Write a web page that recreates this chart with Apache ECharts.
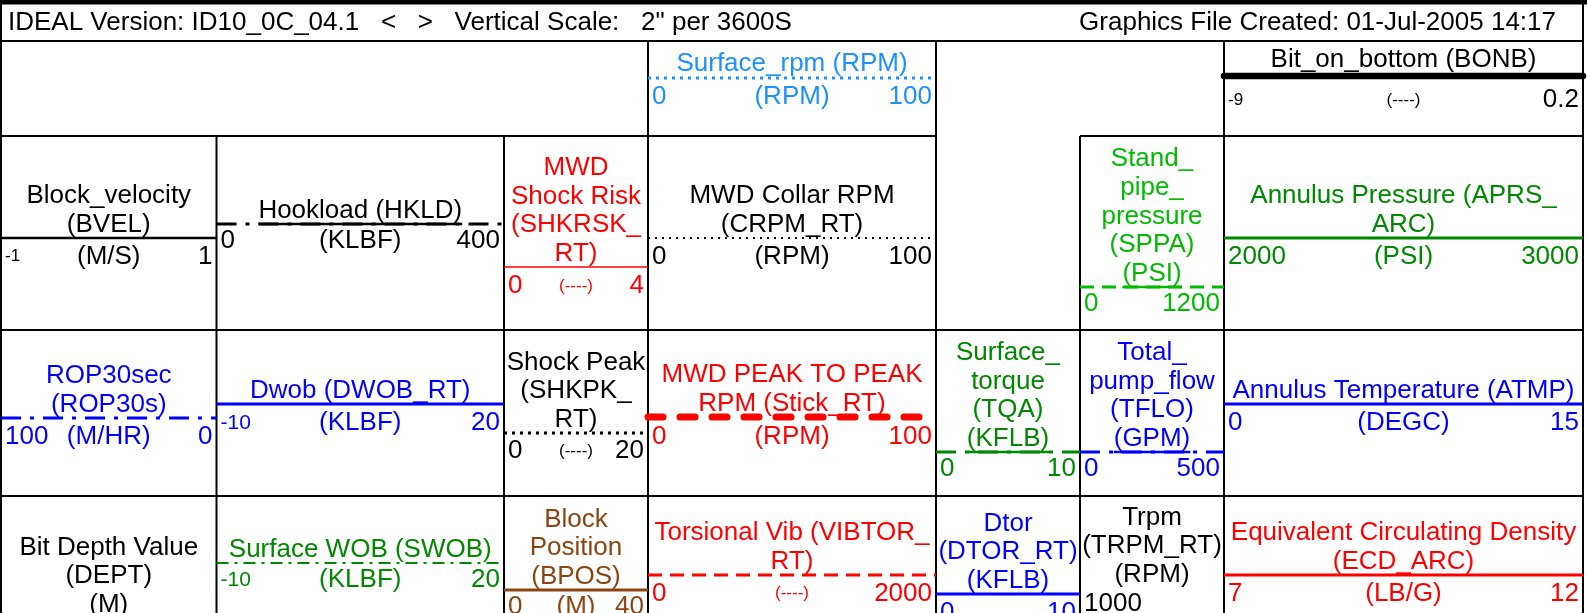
<!DOCTYPE html>
<html><head><meta charset="utf-8">
<script src="https://cdn.jsdelivr.net/npm/echarts/dist/echarts.min.js"></script>
<style>html,body{margin:0;padding:0;background:#fff;overflow:hidden}#chart{width:1587px;height:613px}</style>
</head><body><div id="chart"></div>
<script>
// ---------------- DATA (text content of the log header) ----------------
const headerLeft = 'IDEAL Version: ID10_0C_04.1   <   >   Vertical Scale:   2" per 3600S';
const headerRight = 'Graphics File Created: 01-Jul-2005 14:17';
const curveTitles = [
  ['Surface_rpm (RPM)'],
  ['Bit_on_bottom (BONB)'],
  ['Block_velocity', '(BVEL)'],
  ['Hookload (HKLD)'],
  ['MWD', 'Shock Risk', '(SHKRSK_', 'RT)'],
  ['MWD Collar RPM', '(CRPM_RT)'],
  ['Stand_', 'pipe_', 'pressure', '(SPPA)', '(PSI)'],
  ['Annulus Pressure (APRS_', 'ARC)'],
  ['ROP30sec', '(ROP30s)'],
  ['Dwob (DWOB_RT)'],
  ['Shock Peak', '(SHKPK_', 'RT)'],
  ['MWD PEAK TO PEAK', 'RPM (Stick_RT)'],
  ['Surface_', 'torque', '(TQA)', '(KFLB)'],
  ['Total_', 'pump_flow', '(TFLO)', '(GPM)'],
  ['Annulus Temperature (ATMP)'],
  ['Bit Depth Value', '(DEPT)', '(M)'],
  ['Surface WOB (SWOB)'],
  ['Block', 'Position', '(BPOS)'],
  ['Torsional Vib (VIBTOR_', 'RT)'],
  ['Dtor', '(DTOR_RT)', '(KFLB)'],
  ['Trpm', '(TRPM_RT)', '(RPM)'],
  ['Equivalent Circulating Density', '(ECD_ARC)']
];
const curveUnits = ['(RPM)', '(----)', '(M/S)', '(KLBF)', '(----)', '(RPM)', '', '(PSI)', '(M/HR)', '(KLBF)',
  '(----)', '(RPM)', '', '', '(DEGC)', '', '(KLBF)', '(M)', '(----)', '', '', '(LB/G)'];
const scaleLeft = ['0', '-9', '-1', '0', '0', '0', '0', '2000', '100', '-10',
  '0', '0', '0', '0', '0', '', '-10', '0', '0', '0', '1000', '7'];
const scaleRight = ['100', '0.2', '1', '400', '4', '100', '1200', '3000', '0', '20',
  '20', '100', '10', '500', '15', '', '20', '40', '2000', '10', '', '12'];

// ---------------- STYLES ----------------
const C = {black: '#000000', red: '#FF0000', blue: '#0000FF', sky: '#1E90FF',
  lime: '#00BB00', green: '#008800', brown: '#8B4513'};
const curveColors = ['sky', 'black', 'black', 'black', 'red', 'black', 'lime', 'green', 'blue', 'blue',
  'black', 'red', 'green', 'blue', 'blue', 'black', 'green', 'brown', 'red', 'blue', 'black', 'red'];
const curveDash = ['dot', 'thick', 'solid', 'dashdot', 'solid', 'finedot', 'dash', 'solid', 'dashdot', 'solid',
  'dot', 'bigdash', 'dashdot', 'dashdot', 'solid', 'none', 'dashdot2', 'solid', 'dash', 'solid', 'none', 'solid'];
const curveWidth = [3, 6.5, 2.5, 3, 1.6, 2, 3, 3, 3, 3, 3, 7, 3, 3, 3, 0, 2, 3, 3, 3, 0, 3];
const curveUnderline = [0, 0, 0, 1, 0, 0, 1, 0, 0, 0, 0, 0, 1, 1, 0, 0, 0, 0, 0, 0, 0, 0];
// size class of left label / unit: 'n' normal, 's' small, 'm' medium
const leftSize = ['n', 's', 's', 'n', 'n', 'n', 'n', 'n', 'n', 'm', 'n', 'n', 'n', 'n', 'n', 'n', 'm', 'n', 'n', 'n', 'n', 'n'];
const unitSize = ['n', 's', 'n', 'n', 's', 'n', 'n', 'n', 'n', 'n', 's', 'n', 'n', 'n', 'n', 'n', 'n', 'n', 's', 'n', 'n', 'n'];
const dashPatterns = {
  solid: null, thick: null, none: null,
  dot: [3, 5], finedot: [2, 5], dash: [14, 8], bigdash: [15, 17],
  dashdot: [20, 9, 4, 9], dashdot2: [12, 6, 3, 6]
};
const FONT = '"Liberation Sans", Arial, sans-serif';
const FS = {n: 26, s: 17, m: 21};

// ---------------- LAYOUT ----------------
const W = 1587, H = 613;
const colX = [1, 216.5, 504, 648, 936, 1080, 1224, 1583];
const rowY = [41, 136, 330, 496, H + 5];
const curveCol = [3, 6, 0, 1, 2, 3, 5, 6, 0, 1, 2, 3, 4, 5, 6, 0, 1, 2, 3, 4, 5, 6];
const curveLineY = [78, 76, 238, 224, 267, 238, 287, 238, 418, 404, 433, 417, 452, 452, 404, 618, 563, 590, 575, 594, 588, 575];
const scaleGap = [19, 24, 18.5, 17, 19, 18.5, 17, 18.5, 19, 19, 18, 20, 17, 17, 19, 0, 17, 17, 18.5, 18.5, 16, 18.5];
const titleGapOf = [14, 16.5, 13, 13, 13, 13, 13, 13, 13, 13, 13, 13, 13, 13, 13, 13, 13, 13, 13, 13, 13, 13];
const titleStep = 28.8, pad = 4;
// grid segments: [fromCol, toCol, rowIndex]
const hSegs = [[0, 7, 0], [0, 4, 1], [5, 7, 1], [0, 7, 2], [0, 7, 3]];
// vertical: [colIndex, fromRow]
const vSegs = [[0, 0], [1, 1], [2, 1], [3, 0], [4, 0], [5, 1], [6, 0], [7, 0]];

// ---------------- BUILD ----------------
const ctx = document.createElement('canvas').getContext('2d');
function textW(t, size) { ctx.font = size + 'px ' + FONT; return ctx.measureText(t).width; }

const els = [];
// header band + box
els.push({type: 'rect', shape: {x: 0, y: 0, width: W, height: 4.5}, style: {fill: '#000'}});
els.push({type: 'rect', shape: {x: colX[0], y: 3, width: colX[7] - colX[0], height: rowY[0] - 3}, style: {fill: 'none', stroke: '#000', lineWidth: 2}});
els.push({type: 'text', x: 8, y: 23, style: {text: headerLeft, font: FS.n + 'px ' + FONT, fill: '#000', align: 'left', verticalAlign: 'middle'}});
els.push({type: 'text', x: 1556, y: 23, style: {text: headerRight, font: FS.n + 'px ' + FONT, fill: '#000', align: 'right', verticalAlign: 'middle'}});

hSegs.forEach(s => els.push({type: 'line', shape: {x1: colX[s[0]], y1: rowY[s[2]], x2: colX[s[1]], y2: rowY[s[2]]}, style: {stroke: '#000', lineWidth: 2}}));
vSegs.forEach(s => els.push({type: 'line', shape: {x1: colX[s[0]], y1: rowY[s[1]], x2: colX[s[0]], y2: H}, style: {stroke: '#000', lineWidth: 2}}));

curveTitles.forEach((lines, i) => {
  const x0 = colX[curveCol[i]], x1 = colX[curveCol[i] + 1], cx = (x0 + x1) / 2;
  const ly = curveLineY[i], col = C[curveColors[i]];
  const n = lines.length;
  lines.forEach((t, k) => {
    els.push({type: 'text', x: cx, y: ly - titleGapOf[i] - (n - 1 - k) * titleStep, z: 5,
      style: {text: t, font: FS.n + 'px ' + FONT, fill: col, align: 'center', verticalAlign: 'middle'}});
  });
  const dk = curveDash[i];
  if (dk !== 'none') {
    els.push({type: 'line', z: 4, shape: {x1: x0, y1: ly, x2: x1, y2: ly},
      style: {stroke: col, lineWidth: curveWidth[i], lineDash: dashPatterns[dk],
        lineCap: (dk === 'thick' || dk === 'bigdash') ? 'round' : 'butt'}});
    if (curveUnderline[i]) {
      const w = textW(lines[n - 1], FS.n);
      els.push({type: 'line', z: 4, shape: {x1: cx - w / 2, y1: ly, x2: cx + w / 2, y2: ly},
        style: {stroke: col, lineWidth: Math.min(curveWidth[i], 2.5)}});
    }
  }
  if (scaleGap[i]) {
    const sy = ly + scaleGap[i];
    if (scaleLeft[i]) els.push({type: 'text', x: x0 + pad, y: sy, z: 5,
      style: {text: scaleLeft[i], font: FS[leftSize[i]] + 'px ' + FONT, fill: col, align: 'left', verticalAlign: 'middle'}});
    if (curveUnits[i]) els.push({type: 'text', x: cx, y: sy, z: 5,
      style: {text: curveUnits[i], font: FS[unitSize[i]] + 'px ' + FONT, fill: col, align: 'center', verticalAlign: 'middle'}});
    if (scaleRight[i]) els.push({type: 'text', x: x1 - pad, y: sy, z: 5,
      style: {text: scaleRight[i], font: FS.n + 'px ' + FONT, fill: col, align: 'right', verticalAlign: 'middle'}});
  }
});

const chart = echarts.init(document.getElementById('chart'), null, {renderer: 'canvas'});
chart.setOption({animation: false, backgroundColor: '#fff', graphic: {elements: els}});
</script>
</body></html>
